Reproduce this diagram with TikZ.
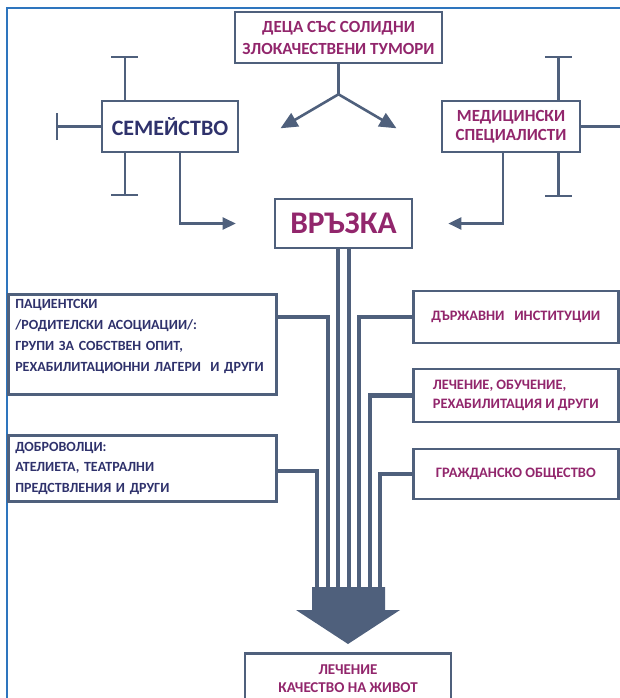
\documentclass[tikz,border=0pt]{standalone}
\usepackage{fontspec}
\setmainfont{Carlito}
\usepackage{xcolor}
\usetikzlibrary{positioning,calc,arrows.meta}
\definecolor{slate}{RGB}{79,96,124}
\definecolor{plum}{RGB}{146,38,108}
\definecolor{indigo}{RGB}{47,50,108}
\definecolor{frameblue}{RGB}{46,117,190}

\begin{document}
\begin{tikzpicture}[x=1pt, y=-1pt,
    box/.style={draw=slate, line width=2.6pt, fill=white, inner sep=0pt, align=center},
    leftbox/.style={box, anchor=north west, minimum width=268pt, text width=254pt, align=left, text=indigo},
    rightbox/.style={box, anchor=west, minimum width=205pt, align=left, text=plum, font=\bfseries\fontsize{14.4}{18.5}\selectfont},
    capline/.style={draw=slate, line width=2.4pt, -{Bar[width=27pt]}},
    flow/.style={draw=slate, line width=2.6pt, -{Triangle[length=13pt,width=12pt]}},
    splitarrow/.style={draw=slate, line width=2.6pt, -{Triangle[length=17pt,width=15pt]}},
    strand/.style={draw=slate, line width=4.3pt}]
  \useasboundingbox (0,0) rectangle (620,698);
  \clip (0,0) rectangle (620,698);
  \draw[frameblue, line width=1.5pt] (7,698) -- (7,8) -- (620,8);

  \node[box, minimum width=207pt, minimum height=51pt, text=plum, font=\bfseries\fontsize{17}{22}\selectfont] (deca) at (338.5,37.5) {ДЕЦА СЪС СОЛИДНИ\\ЗЛОКАЧЕСТВЕНИ ТУМОРИ};
  \node[box, minimum width=136pt, minimum height=51pt, text=indigo, font=\bfseries\fontsize{22}{26}\selectfont] (sem) at (170,126.5) {СЕМЕЙСТВО};
  \node[box, minimum width=138pt, minimum height=51pt, text=plum, font=\bfseries\fontsize{17}{19}\selectfont] (med) at (511,126.5) {МЕДИЦИНСКИ\\СПЕЦИАЛИСТИ};
  \node[box, minimum width=137pt, minimum height=49pt, text=plum, font=\bfseries\fontsize{31.5}{33}\selectfont] (vrazka) at (343.5,223.5) {ВРЪЗКА};

  \node[leftbox, minimum height=100pt, text depth=81pt, font=\bfseries\fontsize{14}{21}\selectfont] (pac) at (7,293) {ПАЦИЕНТСКИ\\/РОДИТЕЛСКИ АСОЦИАЦИИ/:\\ГРУПИ ЗА СОБСТВЕН ОПИТ,\\РЕХАБИЛИТАЦИОННИ ЛАГЕРИ\ \ И ДРУГИ};
  \node[leftbox, minimum height=66pt, font=\bfseries\fontsize{14}{20.5}\selectfont] (dob) at (7,434) {ДОБРОВОЛЦИ:\\АТЕЛИЕТА, ТЕАТРАЛНИ\\ПРЕДСТВЛЕНИЯ И ДРУГИ};

  \node[rightbox, minimum height=52pt] (dar) at (412,317) {ДЪРЖАВНИ\ \ \ ИНСТИТУЦИИ};
  \node[rightbox, minimum height=53pt] (lec) at (412,395.5) {ЛЕЧЕНИЕ, ОБУЧЕНИЕ,\\РЕХАБИЛИТАЦИЯ И ДРУГИ};
  \node[rightbox, minimum height=50pt] (gra) at (412,474) {ГРАЖДАНСКО ОБЩЕСТВО};

  \node[box, anchor=north, minimum width=206pt, inner ysep=11pt, text=plum, font=\bfseries\fontsize{15}{18}\selectfont] (kach) at (348,652) {ЛЕЧЕНИЕ\\КАЧЕСТВО НА ЖИВОТ};

  \draw[capline] ([xshift=24pt]sem.north west) -- ++(0,-44);
  \draw[capline] ([xshift=24pt]sem.south west) -- ++(0,43);
  \draw[capline] (sem.west) -- ++(-45,0);
  \draw[capline] ([xshift=-23pt]med.north east) -- ++(0,-44);
  \draw[capline] ([xshift=-23pt]med.south east) -- ++(0,44);
  \draw[draw=slate, line width=2.4pt] (med.east) -- ++(50,0);

  \coordinate (split) at ($(deca.south)+(0,30)$);
  \draw[draw=slate, line width=2.6pt] (deca.south) -- (split);
  \draw[splitarrow] (split) -- ++(-58,34);
  \draw[splitarrow] (split) -- ++(58,34);

  \draw[flow] ([xshift=10pt]sem.south) |- ([xshift=-38pt]vrazka.west);
  \draw[flow] ([xshift=-8pt]med.south) |- ([xshift=35pt]vrazka.east);

  \coordinate (shaft) at ($(kach.north)+(0,-64)$);
  \foreach \i/\dx in {1/-26.25,2/-15.75,3/-5.25,4/5.25,5/15.75,6/26.25,7/36.75}
    \coordinate (s\i) at ($(vrazka.south)+(\dx,0)$);
  \draw[strand] (s3) -- (s3 |- shaft);
  \draw[strand] (s4) -- (s4 |- shaft);
  \draw[strand] (pac.east |- dar.west) -| (s2 |- shaft);
  \draw[strand] ([yshift=-3pt]dob.east) -| (s1 |- shaft);
  \foreach \n/\i in {dar/5, lec/6, gra/7}
    \draw[strand] (\n.west) -| (s\i |- shaft);

  \fill[slate] ($(shaft)+(-36,-1)$) -- ++(73,0) -- ++(0,23) -- ++(15,0)
    -- ($(kach.north)+(0,-8)$) -- ($(shaft)+(-52,22)$) -- ++(16,0) -- cycle;
\end{tikzpicture}
\end{document}
